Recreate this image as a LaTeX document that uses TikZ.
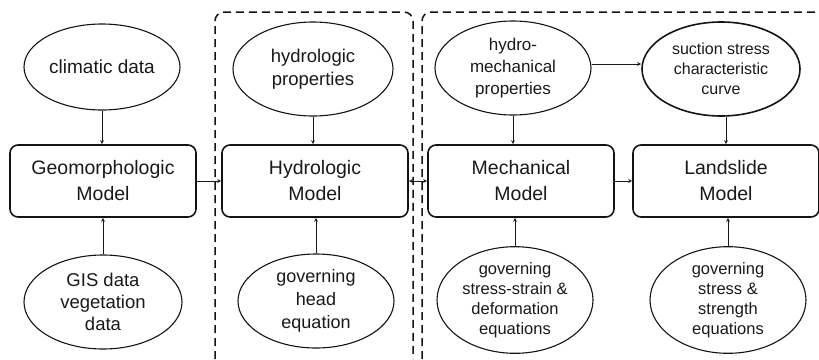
\documentclass[tikz,border=0pt]{standalone}
\usepackage{fontspec}
\setmainfont{Liberation Sans}
\usepackage{tikz}
\usepackage{xcolor}
\usetikzlibrary{shapes,arrows,positioning,shapes.geometric}
\definecolor{ink}{RGB}{25, 25, 25}
\definecolor{frame}{RGB}{20, 20, 20}
\tikzstyle{arrow} = [
    line width=0.8pt,
    -stealth,
    draw=ink
]
\tikzstyle{model} = [
    rectangle,
    rounded corners=8pt,
    minimum width=186pt,
    minimum height=72pt,
    align=center,
    line width=1.6pt,
    draw=frame,
    text=ink,
    font=\fontsize{19.5}{26}\selectfont
]
\tikzstyle{input} = [
    ellipse,
    minimum width=156pt,
    minimum height=94pt,
    inner sep=0pt,
    align=center,
    line width=1.1pt,
    draw=frame,
    text=ink,
    font=\fontsize{17}{22}\selectfont
]
\tikzstyle{group} = [
    line width=1.5pt,
    dash pattern=on 8pt off 5pt,
    draw=frame,
    rounded corners=9pt
]

\begin{document}
\begin{tikzpicture}[x=1pt,y=-1pt]
    \useasboundingbox (0,0) rectangle (819,359);
    % groups
    \draw[group] (215,359) -- (215,12) -- (413,12) -- (413,359);
    \draw[group] (422,359) -- (422,12) -- (830,12);
    % models
    \node[model] (geo) at (103,181) {Geomorphologic\\Model};
    \node[model] (hyd) at (315,181) {Hydrologic\\Model};
    \node[model] (mech) at (521,181) {Mechanical\\Model};
    \node[model] (land) at (726,181) {Landslide\\Model};
    % inputs
    \node[input, minimum height=86pt, font=\fontsize{19}{23}\selectfont] (clim) at (102,67) {climatic data};
    \node[input, minimum width=158pt, font=\fontsize{18.5}{22}\selectfont] (gis) at (103,302) {GIS data\\vegetation\\data};
    \node[input, minimum width=160pt, font=\fontsize{18.5}{23}\selectfont] (hprop) at (313,69) {hydrologic\\properties};
    \node[input, minimum width=156pt, font=\fontsize{18}{23}\selectfont] (head) at (316,301) {governing\\head\\equation};
    \node[input] (hmprop) at (513,68) {hydro-\\mechanical\\properties};
    \node[input, line width=1.6pt, minimum width=158pt, font=\fontsize{16}{20}\selectfont] (suct) at (721,69) {suction stress\\characteristic\\curve};
    \node[input, minimum height=104pt, font=\fontsize{16.5}{20}\selectfont] (ssd) at (515,300) {governing\\stress-strain \&\\deformation\\equations};
    \node[input, minimum height=104pt, font=\fontsize{16.5}{20}\selectfont] (str) at (728,300) {governing\\stress \&\\strength\\equations};
    % links
    \draw[arrow] (clim.south) -- (clim.south |- geo.north);
    \draw[arrow] (gis.north) -- (gis.north |- geo.south);
    \draw[arrow] (hprop.south) -- (hprop.south |- hyd.north);
    \draw[arrow] (head.north) -- (head.north |- hyd.south);
    \draw[arrow] (hmprop.south) -- (hmprop.south |- mech.north);
    \draw[arrow] (ssd.north) -- (ssd.north |- mech.south);
    \draw[arrow] (suct.south -| land.north) -- (land.north);
    \draw[arrow] (str.north) -- (str.north |- land.south);
    \draw[arrow] (geo.east) -- (hyd.west);
    \draw[arrow, stealth-stealth] (hyd.east) -- (mech.west);
    \draw[arrow] (mech.east) -- (land.west);
    \draw[arrow] ([yshift=4pt]hmprop.east) -- ([yshift=4pt]hmprop.east -| suct.west);
\end{tikzpicture}
\end{document}
